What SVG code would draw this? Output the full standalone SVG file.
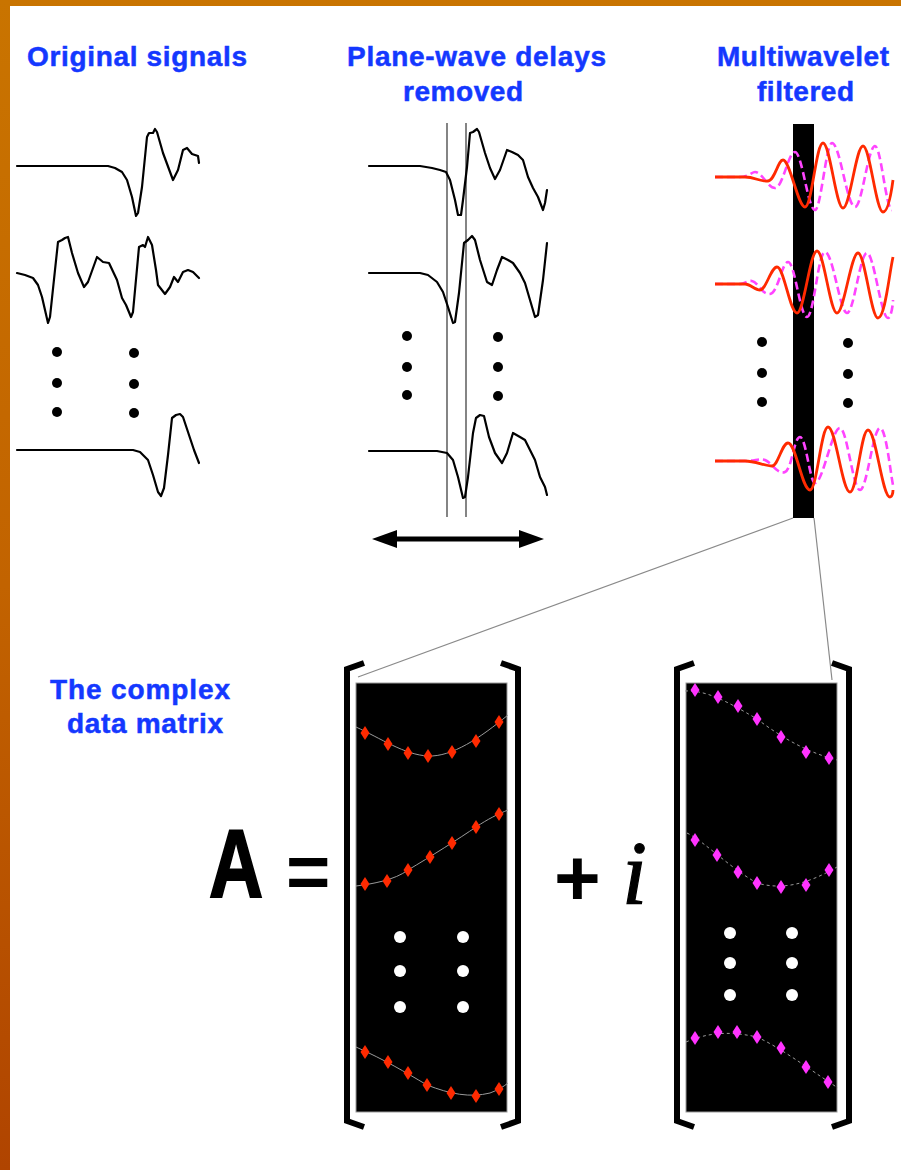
<svg xmlns="http://www.w3.org/2000/svg" width="901" height="1170" viewBox="0 0 901 1170">
<defs>
<linearGradient id="bg" x1="0" y1="0" x2="0" y2="1">
<stop offset="0" stop-color="#C97400"/>
<stop offset="0.5" stop-color="#C26300"/>
<stop offset="1" stop-color="#B04400"/>
</linearGradient>
<path id="dm" d="M0 -7 L4.5 0 L0 7 L-4.5 0 Z"/>
<style>
.lbl{font-family:"Liberation Sans",Arial,sans-serif;font-weight:bold;font-size:28px;fill:#1438FF;stroke:#1438FF;stroke-width:0.5}
.sig{fill:none;stroke:#000;stroke-width:2.2;stroke-linejoin:round;stroke-linecap:round}
.red{fill:none;stroke:#FF2A00;stroke-width:2.8;stroke-linejoin:round}
.mag{fill:none;stroke:#FF44FF;stroke-width:2.6;stroke-dasharray:8 4}
.dot{fill:#000}
.wdot{fill:#fff}
.vl{stroke:#333;stroke-width:1.2}
.brk{fill:none;stroke:#000;stroke-width:6;stroke-linejoin:miter}
.mat{fill:#000;stroke:#999;stroke-width:1}
.rc{fill:none;stroke:#9a9a9a;stroke-width:1}
.mc{fill:none;stroke:#9a9a9a;stroke-width:1;stroke-dasharray:3 3}
.rd{fill:#FF2A00}
.md{fill:#FF33FF}
.zl{stroke:#8a8a8a;stroke-width:1.2}
.big{font-family:"Liberation Sans",Arial,sans-serif;font-weight:bold;fill:#000}
</style>
</defs>
<rect x="0" y="0" width="901" height="1170" fill="url(#bg)"/>
<rect x="10" y="6" width="891" height="1164" fill="#fff"/>

<g id="label-original">
<text class="lbl" x="27" y="66" textLength="220" lengthAdjust="spacing">Original signals</text>
</g>
<g id="label-planewave">
<text class="lbl" x="347" y="66" textLength="259" lengthAdjust="spacing">Plane-wave delays</text>
<text class="lbl" x="403" y="101" textLength="120" lengthAdjust="spacing">removed</text>
</g>
<g id="label-multiwavelet">
<text class="lbl" x="717" y="66" textLength="172" lengthAdjust="spacing">Multiwavelet</text>
<text class="lbl" x="757" y="101" textLength="97" lengthAdjust="spacing">filtered</text>
</g>
<g id="label-matrix">
<text class="lbl" x="50" y="699" textLength="180" lengthAdjust="spacing">The complex</text>
<text class="lbl" x="67" y="733" textLength="156" lengthAdjust="spacing">data matrix</text>
</g>

<g id="original-signals">
<path class="sig" d="M17 166 L108 166 L115 168 L122 172 L127 180 L132 197 L136 216 L138 213 L142 187 L147 137 L149 133 L153 133 L155 129 L157 132 L163 153 L173 180 L178 170 L183 150 L187 148 L192 154 L198 156 L199 163"/>
<path class="sig" d="M17 273 L25 275 L33 278 L38 285 L42 297 L48 323 L50 317 L55 270 L58 242 L62 240 L65 238 L68 237 L72 253 L78 273 L84 287 L88 282 L97 257 L103 262 L109 263 L117 280 L122 298 L126 305 L131 317 L133 312 L139 247 L143 245 L145 247 L148 237 L152 245 L156 270 L158 285 L165 294 L170 287 L174 277 L178 282 L183 272 L188 270 L193 272 L199 278"/>
<path class="sig" d="M17 450 L133 450 L140 452 L148 460 L153 475 L158 492 L161 496 L164 488 L168 455 L172 418 L176 415 L180 414 L183 417 L188 432 L194 450 L199 463"/>
<circle class="dot" cx="57" cy="352" r="5"/>
<circle class="dot" cx="57" cy="383" r="5"/>
<circle class="dot" cx="57" cy="412" r="5"/>
<circle class="dot" cx="134" cy="353" r="5"/>
<circle class="dot" cx="134" cy="384" r="5"/>
<circle class="dot" cx="134" cy="413" r="5"/>
</g>

<g id="aligned-signals">
<line class="vl" x1="447" y1="123" x2="447" y2="517"/>
<line class="vl" x1="466" y1="123" x2="466" y2="517"/>
<path class="sig" d="M369 166 L420 166 L432 168 L440 170 L446 172 L450 180 L455 200 L458 215 L461 215 L463 200 L467 167 L470 133 L473 132 L477 129 L479 132 L485 153 L490 168 L495 179 L500 170 L507 150 L512 152 L518 155 L523 160 L528 177 L533 188 L538 197 L543 210 L545 203 L547 190"/>
<path class="sig" d="M369 273 L420 273 L428 275 L437 282 L443 292 L448 307 L453 323 L455 322 L459 293 L464 243 L468 240 L472 236 L475 240 L480 260 L487 282 L492 285 L497 270 L502 257 L508 260 L513 263 L520 273 L525 283 L530 300 L535 317 L538 315 L543 280 L547 243"/>
<path class="sig" d="M369 451 L437 451 L447 453 L453 460 L458 477 L463 498 L465 497 L468 477 L473 433 L476 418 L480 415 L484 416 L489 437 L495 453 L502 463 L507 453 L513 433 L520 437 L525 440 L530 450 L535 460 L540 477 L545 487 L547 495"/>
<circle class="dot" cx="407" cy="336" r="5"/>
<circle class="dot" cx="407" cy="367" r="5"/>
<circle class="dot" cx="407" cy="395" r="5"/>
<circle class="dot" cx="498" cy="337" r="5"/>
<circle class="dot" cx="498" cy="367" r="5"/>
<circle class="dot" cx="498" cy="396" r="5"/>
<line x1="392" y1="539" x2="524" y2="539" stroke="#000" stroke-width="5"/>
<polygon points="372,539 397,530 397,548" fill="#000"/>
<polygon points="544,539 519,530 519,548" fill="#000"/>
</g>

<g id="filtered-signals">
<rect x="793" y="124" width="21" height="394" fill="#000"/>
<path class="mag" d="M715 177 L740 177 C748 177 752 172 755 172 C762 172 768 188 775 188 C783 188 788 152 795 152 C802 152 808 210 815 210 C821 210 826 143 832 143 C840 143 847 207 855 207 C862 207 868 146 875 146 C881 146 886 210 892 210"/>
<path class="red" d="M715 177 L745 177 C755 177 760 182 768 181 C775 180 778 160 783 160 C790 160 798 207 805 207 C812 207 816 143 823 143 C830 143 836 208 843 208 C850 208 856 146 863 146 C870 146 876 212 883 212 C888 212 891 195 893 180"/>
<path class="mag" d="M715 284 L740 284 C745 284 748 280 752 281 C758 282 762 295 770 294 C778 293 782 262 788 262 C795 262 800 317 807 317 C814 317 818 252 825 252 C833 252 840 313 847 313 C854 313 860 253 867 253 C874 253 881 318 888 318 C891 318 893 305 893 300"/>
<path class="red" d="M715 284 L745 284 C750 284 755 290 760 290 C766 290 771 267 777 267 C784 267 790 313 797 313 C804 313 810 251 817 251 C824 251 830 313 837 313 C844 313 851 253 858 253 C865 253 871 318 878 318 C885 318 889 275 893 257"/>
<path class="mag" d="M715 461 L745 461 C755 461 760 458 765 460 C772 463 778 475 785 472 C792 469 794 437 800 437 C806 437 810 483 815 483 C823 483 832 428 840 428 C847 428 853 490 860 490 C867 490 873 428 880 428 C886 428 890 470 893 485"/>
<path class="red" d="M715 461 L745 461 C755 461 765 466 772 466 C778 466 782 443 788 443 C796 443 802 490 810 490 C817 490 821 427 828 427 C836 427 842 492 850 492 C857 492 861 430 868 430 C876 430 882 497 890 497 C892 497 893 493 893 490"/>
<circle class="dot" cx="762" cy="342" r="5"/>
<circle class="dot" cx="762" cy="373" r="5"/>
<circle class="dot" cx="762" cy="402" r="5"/>
<circle class="dot" cx="848" cy="343" r="5"/>
<circle class="dot" cx="848" cy="374" r="5"/>
<circle class="dot" cx="848" cy="403" r="5"/>
</g>

<g id="connectors">
<line class="zl" x1="793" y1="518" x2="358" y2="677"/>
<line class="zl" x1="814" y1="518" x2="832" y2="680"/>
</g>

<g id="equation">
<text class="big" font-size="96" stroke="#000" stroke-width="2" transform="translate(209,897) scale(0.78,1)">A</text>
<text class="big" font-size="76" x="286" y="898">=</text>
<text class="big" font-size="80" x="554" y="905">+</text>
<text x="622" y="904" font-family="'Liberation Serif','Times New Roman',serif" font-style="italic" font-size="90" fill="#000" stroke="#000" stroke-width="1.2">i</text>
</g>

<g id="matrix-real">
<path class="brk" d="M364 663 L347 669 L347 1121 L364 1127"/>
<path class="brk" d="M501 663 L518 669 L518 1121 L501 1127"/>
<rect class="mat" x="356" y="683" width="151" height="429"/>
<path class="rc" d="M356 727 C380 738 405 755 428 756 C452 757 480 738 508 715"/>
<path class="rc" d="M356 886 C372 884 395 880 408 870 C430 857 460 838 476 827 C488 819 498 814 508 810"/>
<path class="rc" d="M356 1047 C385 1060 405 1072 427 1085 C450 1094 470 1098 490 1093 C498 1090 503 1087 508 1083"/>
<g class="rd">
<use href="#dm" x="365" y="733"/><use href="#dm" x="388" y="744"/><use href="#dm" x="408" y="753"/><use href="#dm" x="428" y="756"/><use href="#dm" x="452" y="752"/><use href="#dm" x="476" y="741"/><use href="#dm" x="499" y="722"/>
<use href="#dm" x="365" y="884"/><use href="#dm" x="387" y="881"/><use href="#dm" x="408" y="870"/><use href="#dm" x="430" y="857"/><use href="#dm" x="452" y="843"/><use href="#dm" x="476" y="827"/><use href="#dm" x="499" y="814"/>
<use href="#dm" x="365" y="1052"/><use href="#dm" x="388" y="1062"/><use href="#dm" x="408" y="1073"/><use href="#dm" x="427" y="1085"/><use href="#dm" x="451" y="1093"/><use href="#dm" x="476" y="1096"/><use href="#dm" x="499" y="1089"/>
</g>
<circle class="wdot" cx="400" cy="937" r="6"/>
<circle class="wdot" cx="400" cy="971" r="6"/>
<circle class="wdot" cx="400" cy="1007" r="6"/>
<circle class="wdot" cx="463" cy="937" r="6"/>
<circle class="wdot" cx="463" cy="971" r="6"/>
<circle class="wdot" cx="463" cy="1007" r="6"/>
</g>

<g id="matrix-imag">
<path class="brk" d="M694 663 L677 669 L677 1121 L694 1127"/>
<path class="brk" d="M832 663 L849 669 L849 1121 L832 1127"/>
<rect class="mat" x="686" y="683" width="151" height="429"/>
<path class="mc" d="M685 691 C705 690 725 700 757 719 C781 737 806 752 837 760"/>
<path class="mc" d="M687 833 C705 842 730 868 757 883 C781 890 806 885 837 867"/>
<path class="mc" d="M686 1042 C705 1034 725 1030 757 1037 C781 1048 806 1067 838 1088"/>
<g class="md">
<use href="#dm" x="695" y="690"/><use href="#dm" x="718" y="697"/><use href="#dm" x="738" y="706"/><use href="#dm" x="757" y="719"/><use href="#dm" x="781" y="737"/><use href="#dm" x="806" y="752"/><use href="#dm" x="829" y="758"/>
<use href="#dm" x="695" y="840"/><use href="#dm" x="717" y="855"/><use href="#dm" x="738" y="872"/><use href="#dm" x="757" y="883"/><use href="#dm" x="781" y="887"/><use href="#dm" x="806" y="885"/><use href="#dm" x="829" y="870"/>
<use href="#dm" x="695" y="1038"/><use href="#dm" x="718" y="1032"/><use href="#dm" x="737" y="1032"/><use href="#dm" x="757" y="1037"/><use href="#dm" x="781" y="1048"/><use href="#dm" x="806" y="1067"/><use href="#dm" x="828" y="1082"/>
</g>
<circle class="wdot" cx="730" cy="933" r="6"/>
<circle class="wdot" cx="730" cy="963" r="6"/>
<circle class="wdot" cx="730" cy="995" r="6"/>
<circle class="wdot" cx="792" cy="933" r="6"/>
<circle class="wdot" cx="792" cy="963" r="6"/>
<circle class="wdot" cx="792" cy="995" r="6"/>
</g>
</svg>
